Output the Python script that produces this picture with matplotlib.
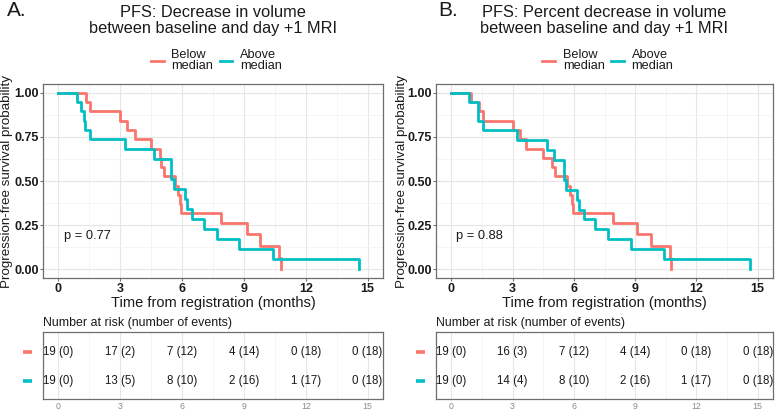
import matplotlib
matplotlib.use('Agg')
import matplotlib.pyplot as plt
from matplotlib.lines import Line2D
from matplotlib.ticker import MultipleLocator, FormatStrFormatter
import matplotlib.transforms as mtrans

plt.rcParams['font.family'] = ['Liberation Sans', 'DejaVu Sans']

# ---------------- data ----------------
groups = ['Below\nmedian', 'Above\nmedian']
colors = ['#F8766D', '#00BFC4']
panel_letters = ['A.', 'B.']
titles = ['PFS: Decrease in volume\nbetween baseline and day +1 MRI',
          'PFS: Percent decrease in volume\nbetween baseline and day +1 MRI']
pvalues = ['p = 0.77', 'p = 0.88']
x_label = 'Time from registration (months)'
y_label = 'Progression-free survival probability'
risk_title = 'Number at risk (number of events)'
risk_times = [0, 3, 6, 9, 12, 15]

# Panel A: Kaplan-Meier step curves (event times, survival after each drop)
a_below_times = [1.36, 1.52, 3.0, 3.33, 3.70, 4.51, 4.95, 5.0, 5.10, 5.67, 5.80, 5.88, 5.97, 7.90, 9.14, 9.79, 10.69, 10.78]
a_below_surv = [0.947, 0.895, 0.842, 0.789, 0.737, 0.684, 0.632, 0.579, 0.526, 0.474, 0.421, 0.368, 0.316, 0.263, 0.197, 0.132, 0.066, 0.0]
a_above_times = [0.90, 1.07, 1.25, 1.30, 1.52, 3.21, 4.64, 5.48, 5.59, 6.12, 6.24, 6.48, 7.04, 7.69, 8.76, 10.40, 14.57]
a_above_surv = [0.947, 0.895, 0.842, 0.789, 0.737, 0.680, 0.623, 0.510, 0.453, 0.397, 0.340, 0.283, 0.227, 0.170, 0.113, 0.057, 0.0]
a_below_risk = ['19 (0)', '17 (2)', '7 (12)', '4 (14)', '0 (18)', '0 (18)']
a_above_risk = ['19 (0)', '13 (5)', '8 (10)', '2 (16)', '1 (17)', '0 (18)']

# Panel B
b_below_times = [0.97, 1.37, 1.56, 3.02, 3.34, 3.66, 4.47, 4.95, 5.08, 5.65, 5.81, 5.89, 5.97, 7.94, 9.11, 9.79, 10.69, 10.77]
b_below_surv = [0.947, 0.895, 0.842, 0.789, 0.737, 0.684, 0.632, 0.579, 0.526, 0.474, 0.421, 0.368, 0.316, 0.263, 0.197, 0.132, 0.066, 0.0]
b_above_times = [0.89, 1.31, 1.33, 1.53, 3.23, 4.68, 5.03, 5.52, 5.60, 6.16, 6.24, 6.48, 7.05, 7.66, 8.82, 10.40, 14.60]
b_above_surv = [0.947, 0.895, 0.842, 0.789, 0.733, 0.677, 0.620, 0.507, 0.451, 0.395, 0.338, 0.282, 0.225, 0.169, 0.113, 0.056, 0.0]
b_below_risk = ['19 (0)', '16 (3)', '7 (12)', '4 (14)', '0 (18)', '0 (18)']
b_above_risk = ['19 (0)', '14 (4)', '8 (10)', '2 (16)', '1 (17)', '0 (18)']

panels = [
    dict(times=[a_below_times, a_above_times], surv=[a_below_surv, a_above_surv],
         risk=[a_below_risk, a_above_risk]),
    dict(times=[b_below_times, b_above_times], surv=[b_below_surv, b_above_surv],
         risk=[b_below_risk, b_above_risk]),
]

# ---------------- layout ----------------
W, H = 778, 411
fig = plt.figure(figsize=(W / 100, H / 100), dpi=100)
fig.patch.set_facecolor('white')

main_rects = [(43, 84, 340, 194), (436, 84, 337, 194)]
table_rects = [(43, 332, 340, 67), (436, 332, 337, 67)]
letter_x = [7, 438]
ylabel_x = [-0.087, -0.083]


def rect(x, y, w, h):
    return [x / W, 1 - (y + h) / H, w / W, h / H]


spine_col = '#6e6e6e'
grid_major = '#e6e6e6'
grid_minor = '#f2f2f2'
txt_col = '#1a1a1a'

for i, p in enumerate(panels):
    ax = fig.add_axes(rect(*main_rects[i]))
    for g in range(2):
        t = [0.0] + list(p['times'][g])
        s = [1.0] + list(p['surv'][g])
        ax.step(t, s, where='post', color=colors[g], lw=2.0, zorder=3)
    ax.set_xlim(-0.75, 15.75)
    ax.set_ylim(-0.05, 1.05)
    ax.xaxis.set_major_locator(MultipleLocator(3))
    ax.xaxis.set_minor_locator(MultipleLocator(1.5))
    ax.yaxis.set_major_locator(MultipleLocator(0.25))
    ax.yaxis.set_minor_locator(MultipleLocator(0.125))
    ax.yaxis.set_major_formatter(FormatStrFormatter('%.2f'))
    ax.grid(which='major', color=grid_major, lw=0.8, zorder=0)
    ax.grid(which='minor', color=grid_minor, lw=0.5, zorder=0)
    ax.set_axisbelow(True)
    for sp in ax.spines.values():
        sp.set_color(spine_col)
        sp.set_linewidth(0.9)
    ax.tick_params(which='major', length=2.2, width=0.8, color=spine_col,
                   labelsize=9, labelcolor=txt_col)
    ax.tick_params(axis='y', pad=0.8)
    ax.tick_params(axis='x', pad=1.5)
    ax.tick_params(which='minor', length=0)
    for lab in ax.get_xticklabels() + ax.get_yticklabels():
        lab.set_fontweight('bold')
    ax.set_xlabel(x_label, fontsize=10.5, labelpad=0.5, color=txt_col)
    ax.set_ylabel(y_label, fontsize=9.6, color=txt_col)
    ax.yaxis.set_label_coords(ylabel_x[i], 0.5)
    ax.text(0.25, 0.19, pvalues[i], fontsize=9.3, va='center', ha='left', color=txt_col)
    ax.text(0.5, 1.327, titles[i], transform=ax.transAxes, ha='center', va='center',
            fontsize=11.8, linespacing=1.12, color=txt_col)
    handles = [Line2D([], [], color=c, lw=2.0) for c in colors]
    leg = ax.legend(handles, groups, ncol=2, loc='center', bbox_to_anchor=(0.51, 1.12),
                    frameon=False, fontsize=9.2, handlelength=1.0, handletextpad=0.6,
                    columnspacing=0.5, borderaxespad=0, borderpad=0)
    for tx in leg.get_texts():
        tx.set_linespacing(0.9)
        tx.set_color(txt_col)
    fig.text(letter_x[i] / W, 1 - 11 / H, panel_letters[i], fontsize=15, va='center',
             ha='left', color=txt_col)

    # risk table
    tb = fig.add_axes(rect(*table_rects[i]))
    for g in range(2):
        for t, lab in zip(risk_times, p['risk'][g]):
            tb.text(t, g, lab, ha='center', va='center', fontsize=8.3, color=txt_col)
        trans = mtrans.blended_transform_factory(tb.transAxes, tb.transData)
        tb.plot([-0.059, -0.032], [g, g], transform=trans, color=colors[g], lw=2.6,
                clip_on=False, solid_capstyle='butt')
    tb.set_xlim(-0.75, 15.75)
    tb.set_ylim(1.62, -0.69)
    tb.set_xticks(risk_times)
    tb.xaxis.set_minor_locator(MultipleLocator(1.5))
    tb.set_yticks([])
    tb.grid(axis='x', which='major', color=grid_major, lw=0.8, zorder=0)
    tb.grid(axis='x', which='minor', color=grid_minor, lw=0.5, zorder=0)
    tb.set_axisbelow(True)
    for sp in tb.spines.values():
        sp.set_color(spine_col)
        sp.set_linewidth(0.9)
    tb.tick_params(axis='x', which='both', length=0, labelsize=6.3, labelcolor='#8a8a8a', pad=1.8)
    tb.set_title(risk_title, loc='left', fontsize=8.9, pad=4, color=txt_col)

fig.savefig('out.png', dpi=100, facecolor='white')
